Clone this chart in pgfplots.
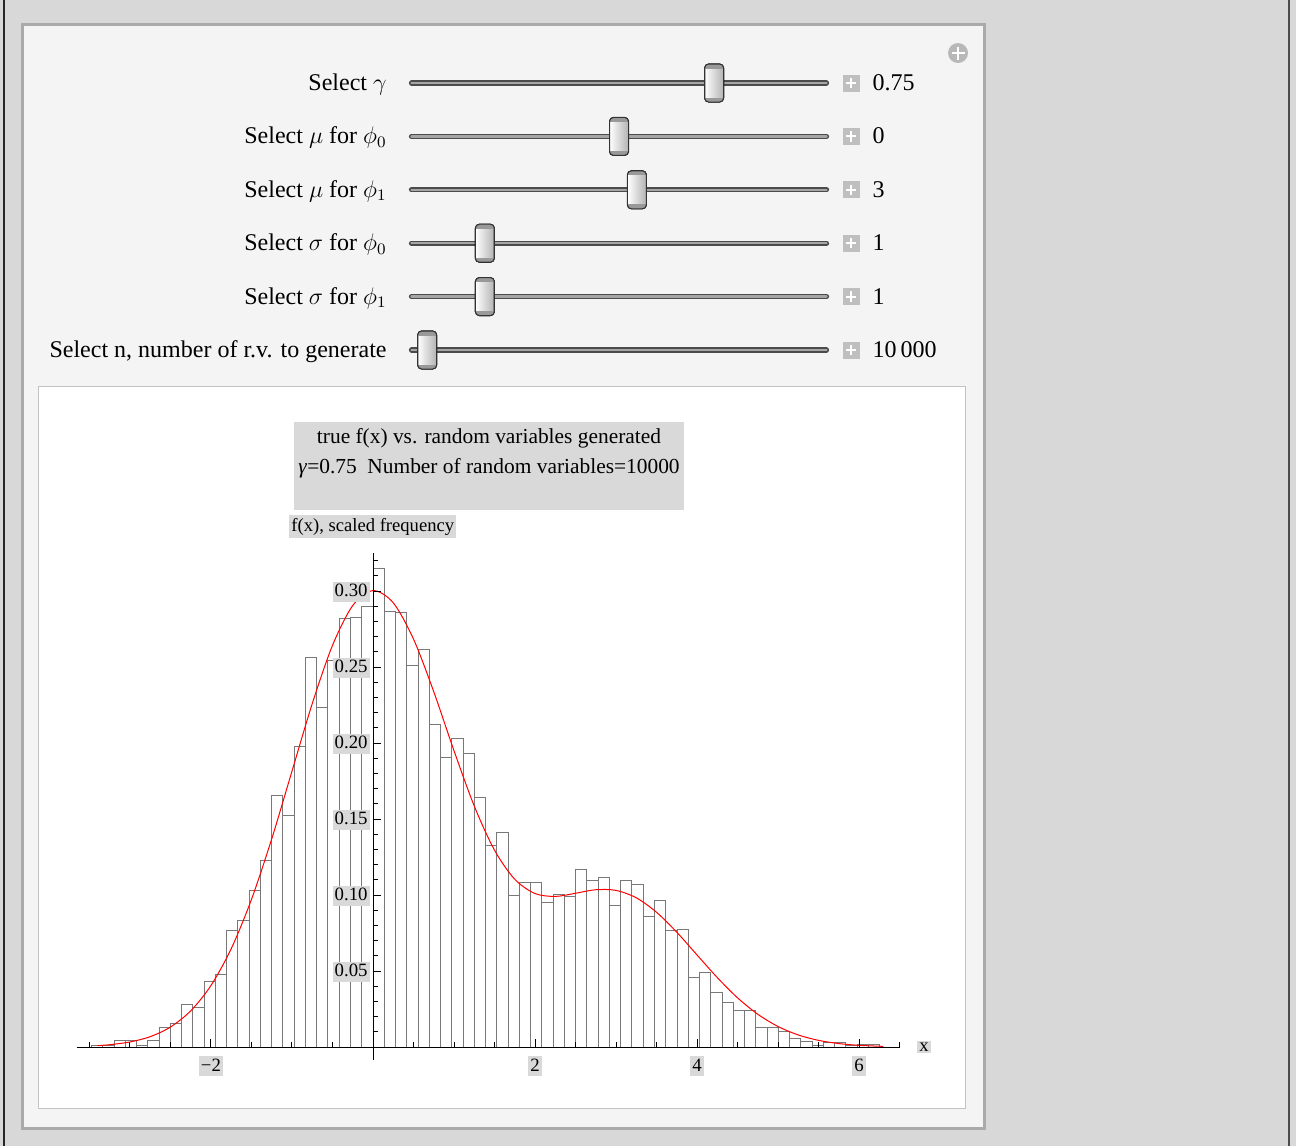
\documentclass[border=0pt]{standalone}
\usepackage{fontspec}
\setmainfont{Liberation Serif}
\usepackage{pgfplots}
\pgfplotsset{compat=1.18}

\definecolor{outerbg}{RGB}{216,216,216}
\definecolor{panelbg}{RGB}{244,244,244}
\definecolor{panelrule}{RGB}{170,170,170}
\definecolor{boxrule}{RGB}{195,195,195}
\definecolor{labelbg}{RGB}{217,217,217}
\definecolor{barline}{RGB}{120,120,120}
\definecolor{trackdark}{RGB}{75,75,75}
\definecolor{tracklight}{RGB}{165,165,165}

% slider thumb
\pgfdeclareplotmark{thumb}{%
  \shade[left color=white, right color=black!30, rounded corners=2pt]
    (-4.75pt,-9.5pt) rectangle (4.75pt,9.5pt);
  \begin{scope}
    \clip[rounded corners=2pt] (-4.75pt,-9.5pt) rectangle (4.75pt,9.5pt);
    \fill[black!40] (-5pt,7.5pt) rectangle (5pt,10pt);
    \fill[black!40] (-5pt,-10pt) rectangle (5pt,-7.5pt);
  \end{scope}
  \draw[black!80, line width=0.5pt, rounded corners=2pt]
    (-4.75pt,-9.5pt) rectangle (4.75pt,9.5pt);
}
% small "+" button
\pgfdeclareplotmark{plusbox}{%
  \fill[black!25] (-4pt,-4pt) rectangle (4pt,4pt);
  \draw[white, line width=1pt] (-2.6pt,0pt) -- (2.6pt,0pt) (0pt,-2.6pt) -- (0pt,2.6pt);
}

\begin{document}
\begin{tikzpicture}[x=0.5pt, y=0.5pt]
% page background and panels (pixel units, y downward as negative)
\fill[outerbg] (0,0) rectangle (1296,-1146);
\fill[black!85] (3,0) rectangle (5,-1146);
\fill[black!70] (1288,0) rectangle (1290,-1146);
\filldraw[fill=panelbg, draw=panelrule, line width=1.5pt] (22.5,-24.5) rectangle (984.5,-1128.5);
\filldraw[fill=white, draw=boxrule, line width=0.5pt] (38.5,-386.5) rectangle (965.5,-1108.5);
\fill[black!28] (958,-53) circle (10);
\draw[white, line width=1.3pt] (951.5,-53) -- (964.5,-53) (958,-46.5) -- (958,-59.5);

% sliders (axis placed in pt: pixel/2)
\begin{axis}[
    at={(210pt,-175pt)}, anchor=south west,
    scale only axis, width=199pt, height=133.5pt,
    xmin=0, xmax=1, ymin=1, ymax=6, y dir=reverse,
    axis lines=none, clip=false,
    unbounded coords=jump,
]
\addplot[trackdark, line width=2.6pt, line cap=round] coordinates {
  (-0.0214,1) (1.0214,1) (nan,nan) (-0.0214,2) (1.0214,2) (nan,nan)
  (-0.0214,3) (1.0214,3) (nan,nan) (-0.0214,4) (1.0214,4) (nan,nan)
  (-0.0214,5) (1.0214,5) (nan,nan) (-0.0214,6) (1.0214,6)};
\addplot[tracklight, line width=1.2pt, line cap=round] coordinates {
  (-0.0214,1) (1.0214,1) (nan,nan) (-0.0214,2) (1.0214,2) (nan,nan)
  (-0.0214,3) (1.0214,3) (nan,nan) (-0.0214,4) (1.0214,4) (nan,nan)
  (-0.0214,5) (1.0214,5) (nan,nan) (-0.0214,6) (1.0214,6)};
\addplot[only marks, mark=thumb] coordinates {
  (0.739,1) (0.5,2) (0.545,3) (0.163,4) (0.163,5) (0.018,6)};
\addplot[only marks, mark=plusbox] coordinates {
  (1.083,1) (1.083,2) (1.083,3) (1.083,4) (1.083,5) (1.083,6)};
\begin{scope}[font=\fontsize{12}{14}\selectfont, every node/.style={inner xsep=0pt, yshift=-1.5pt}]
\node[anchor=mid east] at (axis cs:-0.083,1) {Select $\gamma$};
\node[anchor=mid east] at (axis cs:-0.083,2) {Select $\mu$ for $\phi_0$};
\node[anchor=mid east] at (axis cs:-0.083,3) {Select $\mu$ for $\phi_1$};
\node[anchor=mid east] at (axis cs:-0.083,4) {Select $\sigma$ for $\phi_0$};
\node[anchor=mid east] at (axis cs:-0.083,5) {Select $\sigma$ for $\phi_1$};
\node[anchor=mid east] at (axis cs:-0.083,6) {Select n, number of r.v. to generate};
\node[anchor=mid west] at (axis cs:1.136,1) {0.75};
\node[anchor=mid west] at (axis cs:1.136,2) {0};
\node[anchor=mid west] at (axis cs:1.136,3) {3};
\node[anchor=mid west] at (axis cs:1.136,4) {1};
\node[anchor=mid west] at (axis cs:1.136,5) {1};
\node[anchor=mid west] at (axis cs:1.136,6) {10\,000};
\end{scope}
\end{axis}

% title box
\fill[labelbg] (294,-422) rectangle (684,-510);
\node[anchor=base, font=\fontsize{10.7}{12}\selectfont] at (489,-443) {true f(x) vs. random variables generated};
\node[anchor=base, font=\fontsize{10.7}{12}\selectfont] at (489,-473) {\textit{γ}=0.75\ \ Number of random variables=10000};

% histogram and density
\begin{axis}[
    at={(186.5pt,-523.5pt)}, anchor=origin,
    scale only axis, width=411.9pt, height=253.5pt,
    xmin=-3.66, xmax=6.51, ymin=-0.0086, ymax=0.325,
    axis lines=middle, axis on top,
    axis line style={-, black, line width=0.5pt},
    tick align=inside,
    major tick length=4pt, minor tick length=2.4pt,
    tick style={black, line width=0.5pt},
    xtick={-2,2,4,6}, xticklabels={−2,2,4,6},
    minor xtick={-3.5,-3,-2.5,-1.5,-1,-0.5,0,0.5,1,1.5,2.5,3,3.5,4.5,5,5.5,6.5},
    ytick={0.05,0.10,0.15,0.20,0.25,0.30},
    yticklabels={0.05,0.10,0.15,0.20,0.25,0.30},
    minor ytick={0.01,0.02,0.03,0.04,0.06,0.07,0.08,0.09,0.11,0.12,0.13,0.14,
      0.16,0.17,0.18,0.19,0.21,0.22,0.23,0.24,0.26,0.27,0.28,0.29,0.31,0.32},
    tick label style={font=\fontsize{9.4}{11}\selectfont, fill=labelbg,
      inner xsep=1pt, inner ysep=0.6pt, text height=6.7pt, text depth=2pt},
    xticklabel style={yshift=-4.5pt},
    yticklabel style={xshift=-1.5pt, yshift=-0.5pt},
    xlabel={x},
    xlabel style={at={(axis description cs:1.0288,0.0258)}, anchor=center,
      fill=labelbg, font=\fontsize{9.3}{11}\selectfont, inner sep=1pt},
    ylabel={f(x), scaled frequency},
    ylabel style={at={(axis description cs:0.258,1.0524)}, anchor=west, rotate=0,
      fill=labelbg, font=\fontsize{9.3}{11}\selectfont, inner xsep=1pt, inner ysep=1.5pt},
]
\addplot[ybar interval, fill=white, draw=barline, line width=0.5pt] coordinates {
  (-3.475,0.0013) (-3.336,0.0013) (-3.197,0.0044) (-3.058,0.0046) (-2.919,0.0011)
  (-2.780,0.0041) (-2.641,0.0127) (-2.502,0.0156) (-2.363,0.0281) (-2.224,0.0259)
  (-2.085,0.0430) (-1.946,0.0476) (-1.807,0.0765) (-1.668,0.0831) (-1.529,0.1031)
  (-1.390,0.1226) (-1.251,0.1653) (-1.112,0.1524) (-0.973,0.1976) (-0.834,0.2564)
  (-0.695,0.2232) (-0.556,0.2544) (-0.417,0.2818) (-0.278,0.2825) (-0.139,0.2897)
  (0,0.3149) (0.139,0.2868) (0.278,0.2862) (0.417,0.2513) (0.556,0.2616)
  (0.695,0.2125) (0.834,0.1906) (0.973,0.2029) (1.112,0.1930) (1.251,0.1640)
  (1.390,0.1329) (1.529,0.1414) (1.668,0.0996) (1.807,0.1083) (1.946,0.1083)
  (2.085,0.0952) (2.224,0.1004) (2.363,0.0989) (2.502,0.1169) (2.641,0.1096)
  (2.780,0.1118) (2.919,0.0932) (3.058,0.1096) (3.197,0.1070) (3.336,0.0860)
  (3.475,0.0967) (3.614,0.0768) (3.753,0.0774) (3.892,0.0456) (4.031,0.0491)
  (4.170,0.0360) (4.309,0.0294) (4.448,0.0237) (4.587,0.0243) (4.726,0.0129)
  (4.865,0.0129) (5.004,0.0101) (5.143,0.0057) (5.282,0.0037) (5.421,0.0009)
  (5.560,0.0031) (5.699,0.0031) (5.838,0.0009) (5.977,0.0015) (6.116,0.0015)
  (6.255,0.0015)};
\addplot[red, line width=0.5pt, smooth] coordinates {
  (-3.4,0.00092) (-3.25,0.00152) (-3.0,0.00332) (-2.75,0.00682) (-2.5,0.01315)
  (-2.25,0.02381) (-2.0,0.04049) (-1.75,0.06471) (-1.5,0.09714) (-1.25,0.13699)
  (-1.0,0.18151) (-0.75,0.22594) (-0.5,0.26427) (-0.25,0.29051) (0,0.30032)
  (0.25,0.29228) (0.5,0.26843) (0.75,0.23379) (1.0,0.19498) (1.25,0.15856)
  (1.5,0.12952) (1.75,0.11037) (2.0,0.10099) (2.25,0.09909) (2.5,0.10116)
  (2.75,0.10349) (3.0,0.10306) (3.25,0.09819) (3.5,0.08867) (3.75,0.07555)
  (4.0,0.06059) (4.25,0.04570) (4.5,0.03239) (4.75,0.02157) (5.0,0.01350)
  (5.25,0.00794) (5.5,0.00438) (5.75,0.00227) (6.0,0.00111) (6.3,0.00043)};
\end{axis}
\end{tikzpicture}
\end{document}
